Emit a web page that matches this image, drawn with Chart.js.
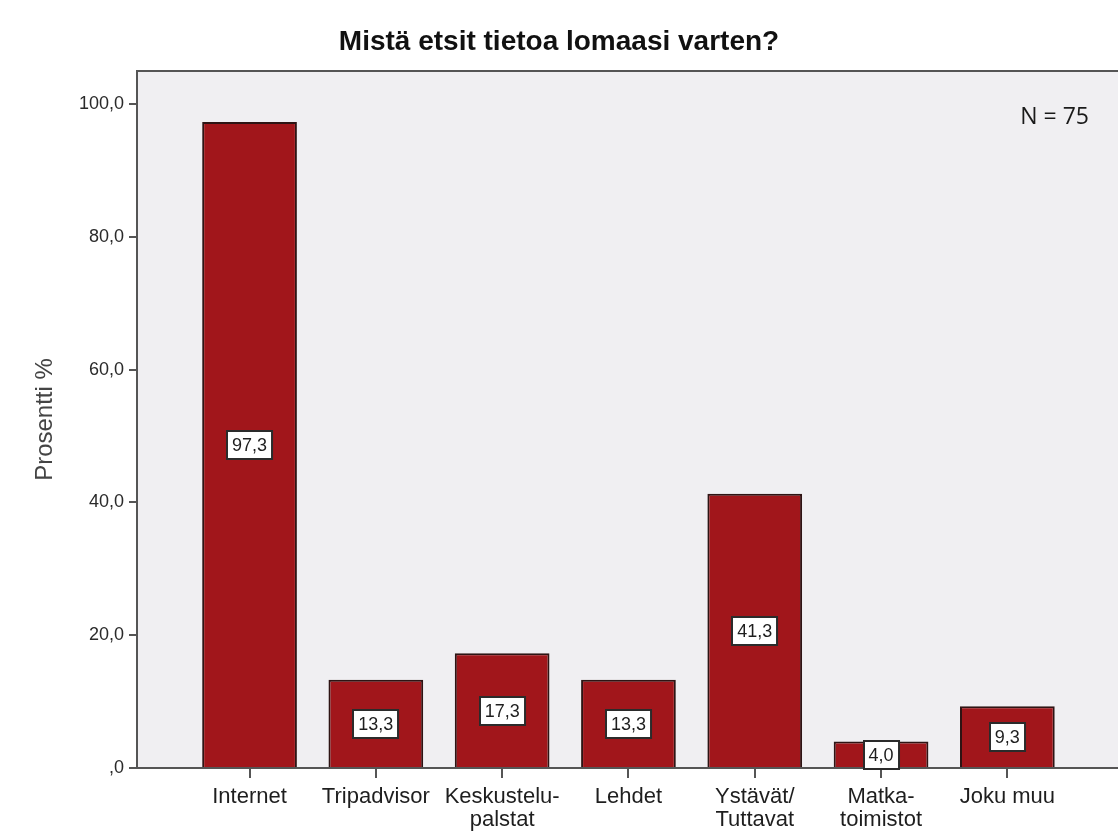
<!DOCTYPE html>
<html lang="fi">
<head>
<meta charset="utf-8">
<title>Mistä etsit tietoa lomaasi varten?</title>
<script src="https://cdn.jsdelivr.net/npm/chart.js@4/dist/chart.umd.min.js"></script>
<style>
  html, body { margin: 0; padding: 0; background: #fff; overflow: hidden; }
  #wrap { position: relative; width: 1118px; height: 832px; }
</style>
</head>
<body>
<div id="wrap"><canvas id="lomaChart"></canvas></div>
<script>
const categories = ['Internet', 'Tripadvisor', ['Keskustelu-', 'palstat'], 'Lehdet',
                    ['Ystävät/', 'Tuttavat'], ['Matka-', 'toimistot'], 'Joku muu'];
const percents = [97.3, 13.3, 17.3, 13.3, 41.3, 4.0, 9.3];
const yTicks = [0, 20, 40, 60, 80, 100];
const sampleSize = 75;

const AXIS = '#555555';
const FONT = '"Liberation Sans", Arial, sans-serif';

// 97,3 style numbers, SPSS writes zero as ",0"
const fiNum = v => v === 0 ? ',0' : v.toFixed(1).replace('.', ',');

const panelPlugin = {
    id: 'panel',
    beforeDraw(chart) {
        const { ctx, chartArea: a } = chart;
        ctx.save();
        ctx.fillStyle = '#f0eff2';
        ctx.fillRect(a.left, a.top, a.right - a.left, a.bottom - a.top);
        ctx.restore();
    },
    afterDraw(chart) {
        const { ctx, chartArea: a } = chart;
        ctx.save();
        // top frame line
        ctx.strokeStyle = AXIS;
        ctx.lineWidth = 2;
        ctx.beginPath();
        ctx.moveTo(a.left - 1, a.top);
        ctx.lineTo(a.right, a.top);
        ctx.stroke();

        // title
        ctx.fillStyle = '#111';
        ctx.font = 'bold 28px ' + FONT;
        ctx.textAlign = 'center';
        ctx.textBaseline = 'alphabetic';
        ctx.fillText('Mistä etsit tietoa lomaasi varten?', 559, 50);

        // sample size note
        ctx.font = '23px "Open Sans", "DejaVu Sans", sans-serif';
        ctx.fillStyle = '#1a1a1a';
        ctx.textAlign = 'right';
        ctx.fillText('N = ' + sampleSize, 1089, 124);
        ctx.restore();
    }
};

// value boxes sit at half the bar height
const valueBoxPlugin = {
    id: 'valueBoxes',
    afterDatasetsDraw(chart) {
        const { ctx } = chart;
        const yScale = chart.scales.y;
        const meta = chart.getDatasetMeta(0);
        ctx.save();
        ctx.font = '18px ' + FONT;
        ctx.textAlign = 'center';
        ctx.textBaseline = 'middle';
        meta.data.forEach((bar, i) => {
            const v = percents[i];
            const txt = fiNum(v);
            const cy = yScale.getPixelForValue(v / 2);
            const w = ctx.measureText(txt).width + 10;
            const h = 28;
            const x0 = Math.round(bar.x - w / 2), y0 = Math.round(cy - h / 2);
            ctx.fillStyle = '#fff';
            ctx.fillRect(x0, y0, w, h);
            ctx.strokeStyle = '#2b2b2b';
            ctx.lineWidth = 2;
            ctx.strokeRect(x0, y0, w, h);
            ctx.fillStyle = '#1e1e1e';
            ctx.fillText(txt, bar.x, cy + 1);
        });
        ctx.restore();
    }
};

new Chart(document.getElementById('lomaChart'), {
    type: 'bar',
    data: {
        datasets: [{
            data: percents.map((v, i) => ({ x: i, y: v })),
            backgroundColor: '#a1161b',
            borderColor: '#2e1414',
            borderWidth: 2,
            borderSkipped: 'bottom',
            barPercentage: 0.75,
            categoryPercentage: 1
        }]
    },
    options: {
        responsive: true,
        maintainAspectRatio: false,
        animation: false,
        layout: { autoPadding: false, padding: { top: 71, left: 0, right: 0, bottom: 0 } },
        plugins: {
            legend: { display: false },
            title: { display: false },
            tooltip: { enabled: false }
        },
        scales: {
            x: {
                type: 'linear',
                offset: false,
                min: -0.891,
                max: 6.876,
                afterBuildTicks: scale => {
                    scale.ticks = categories.map((_, i) => ({ value: i }));
                },
                afterFit: scale => { scale.height = 64; },
                grid: { offset: false, drawOnChartArea: false, drawTicks: true, tickLength: 10, color: AXIS, lineWidth: 2 },
                border: { display: true, color: AXIS, width: 2 },
                ticks: {
                    autoSkip: false,
                    maxRotation: 0,
                    padding: 7,
                    color: '#1e1e1e',
                    font: { family: FONT, size: 22, lineHeight: 1.05 },
                    callback: value => categories[value]
                }
            },
            y: {
                min: 0,
                max: 105,
                afterBuildTicks: scale => {
                    scale.ticks = yTicks.map(v => ({ value: v }));
                },
                afterFit: scale => { scale.width = 137; },
                grid: { drawOnChartArea: false, drawTicks: true, tickLength: 8, color: AXIS, lineWidth: 2 },
                border: { display: true, color: AXIS, width: 2 },
                ticks: {
                    padding: 5,
                    color: '#2a2a2a',
                    font: { family: FONT, size: 18 },
                    callback: v => fiNum(v)
                },
                title: {
                    display: true,
                    text: 'Prosentti %',
                    color: '#444',
                    font: { family: FONT, size: 24 },
                    padding: { top: 31, bottom: 0 }
                }
            }
        }
    },
    plugins: [panelPlugin, valueBoxPlugin]
});
</script>
</body>
</html>
